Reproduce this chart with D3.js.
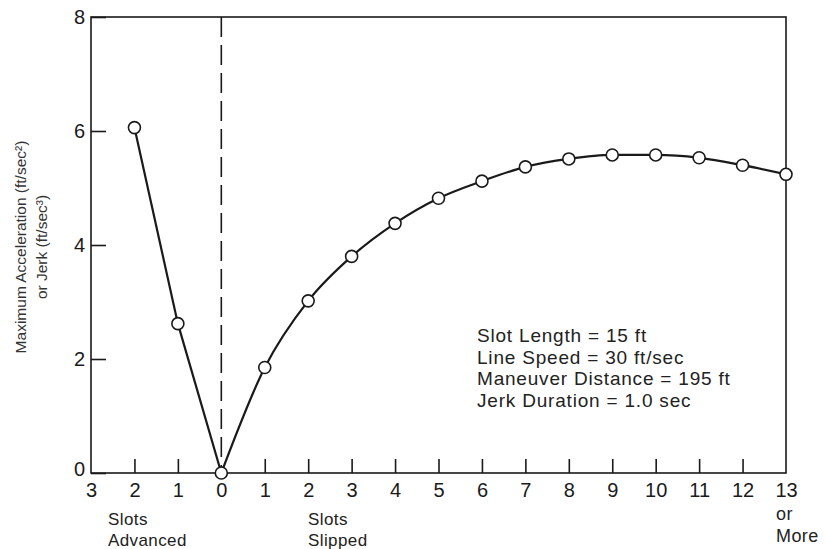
<!DOCTYPE html>
<html><head><meta charset="utf-8">
<script src="https://cdn.jsdelivr.net/npm/d3@7"></script>
<style>
html,body{margin:0;padding:0;background:#fff;}
svg{display:block;font-family:"Liberation Sans",Arial,sans-serif;}
</style></head>
<body>
<svg id="chart" width="825" height="549"></svg>
<script>
// Slot positions: negative = slots advanced, positive = slots slipped
const slotPositions = [-2, -1, 0, 1, 2, 3, 4, 5, 6, 7, 8, 9, 10, 11, 12, 13];
const maxValues = [6.06, 2.62, 0, 1.85, 3.02, 3.8, 4.38, 4.82, 5.12, 5.37, 5.51, 5.58, 5.58, 5.53, 5.40, 5.24];
const xTickPositions = [-3, -2, -1, 0, 1, 2, 3, 4, 5, 6, 7, 8, 9, 10, 11, 12, 13];
const xTickLabels = ["3", "2", "1", "0", "1", "2", "3", "4", "5", "6", "7", "8", "9", "10", "11", "12", "13"];
const yTicks = [0, 2, 4, 6, 8];
const notes = ["Slot Length = 15 ft", "Line Speed = 30 ft/sec", "Maneuver Distance = 195 ft", "Jerk Duration = 1.0 sec"];

const svg = d3.select("#chart");
const ink = "#1a1a1a";
const pLeft = 91, pRight = 786, pTop = 17, pBottom = 473;

const x = d3.scaleLinear().domain([-3, 13]).range([pLeft, pRight]);
const y = d3.scaleLinear().domain([0, 8]).range([pBottom, pTop]);

// frame
svg.append("rect").attr("x", pLeft).attr("y", pTop).attr("width", pRight - pLeft).attr("height", pBottom - pTop)
  .attr("fill", "none").attr("stroke", ink).attr("stroke-width", 1.6);

// y axis: inward ticks
const yAxis = d3.axisRight(y).tickValues(yTicks).tickSize(15).tickFormat(d3.format("d"));
const gy = svg.append("g").attr("transform", `translate(${pLeft},0)`).call(yAxis);
gy.select(".domain").remove();
gy.selectAll(".tick line").attr("stroke", ink).attr("stroke-width", 1.6);
gy.selectAll(".tick text").attr("x", -6).attr("text-anchor", "end")
  .attr("font-size", 20).attr("fill", ink).attr("font-family", "Liberation Sans, Arial, sans-serif");
gy.selectAll(".tick").filter(d => d === 0).select("text").attr("dy", "0.1em");

// x axis: inward ticks
const xAxis = d3.axisBottom(x).tickValues(xTickPositions).tickSize(0).tickFormat((d, i) => xTickLabels[i]);
const gx = svg.append("g").attr("transform", `translate(0,${pBottom})`).call(xAxis);
gx.select(".domain").remove();
gx.selectAll(".tick line").remove();
gx.selectAll(".tick").filter(d => d !== 0 && d !== -3 && d !== 13).append("line")
  .attr("y1", 0).attr("y2", -14).attr("stroke", ink).attr("stroke-width", 1.6);
gx.selectAll(".tick text").attr("y", 24).attr("dy", 0)
  .attr("font-size", 20).attr("fill", ink).attr("font-family", "Liberation Sans, Arial, sans-serif");

// dashed zero line
svg.append("line").attr("x1", x(0)).attr("x2", x(0)).attr("y1", pTop).attr("y2", pBottom)
  .attr("stroke", ink).attr("stroke-width", 1.6).attr("stroke-dasharray", "20,8");

// curves
const pts = slotPositions.map((p, i) => [p, maxValues[i]]);
const advanced = pts.filter(d => d[0] <= 0);
const slipped = pts.filter(d => d[0] >= 0);
svg.append("path").datum(advanced)
  .attr("d", d3.line().x(d => x(d[0])).y(d => y(d[1])))
  .attr("fill", "none").attr("stroke", ink).attr("stroke-width", 2.2);
svg.append("path").datum(slipped)
  .attr("d", d3.line().x(d => x(d[0])).y(d => y(d[1])).curve(d3.curveMonotoneX))
  .attr("fill", "none").attr("stroke", ink).attr("stroke-width", 2.2);

svg.selectAll("circle.pt").data(pts).join("circle").attr("class", "pt")
  .attr("cx", d => x(d[0])).attr("cy", d => y(d[1])).attr("r", 6)
  .attr("fill", "#fff").attr("stroke", ink).attr("stroke-width", 1.6);

// axis title
const yt = svg.append("text").attr("transform", "translate(26,247) rotate(-90)")
  .attr("text-anchor", "middle").attr("font-size", 15.5).attr("fill", "#333");
yt.append("tspan").attr("x", 0).attr("dy", 0).text("Maximum Acceleration (ft/sec²)");
yt.append("tspan").attr("x", 0).attr("dy", 21).text("or Jerk (ft/sec³)");

// bottom labels
function multi(xp, y0, lines, gap, fs) {
  const t = svg.append("text").attr("x", xp).attr("y", y0).attr("font-size", fs)
    .attr("fill", "#222").attr("letter-spacing", "0.4px");
  lines.forEach((l, i) => t.append("tspan").attr("x", xp).attr("dy", i ? gap : 0).text(l));
}
multi(108, 525, ["Slots", "Advanced"], 21, 17);
multi(308, 525, ["Slots", "Slipped"], 21, 17);
multi(776, 520, ["or", "More"], 22, 18);

// notes
const nt = svg.append("text").attr("x", 477).attr("y", 342).attr("font-size", 19).attr("fill", "#222")
  .attr("letter-spacing", "0.8px");
notes.forEach((l, i) => nt.append("tspan").attr("x", 477).attr("dy", i ? 21.5 : 0).text(l));
</script>
</body></html>
